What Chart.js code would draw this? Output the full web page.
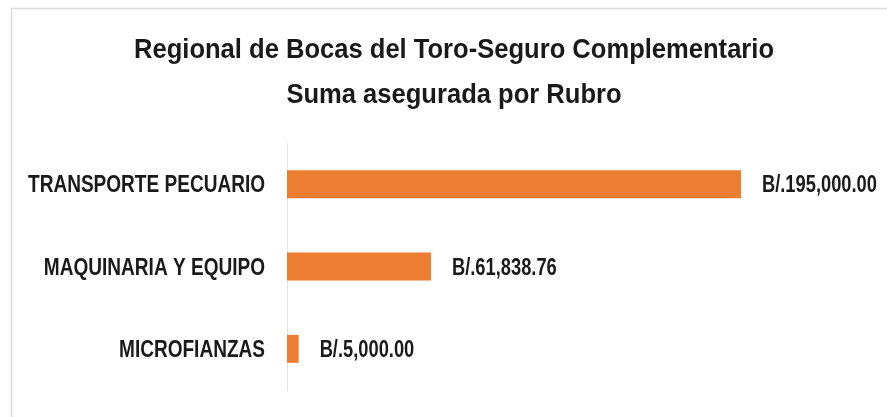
<!DOCTYPE html>
<html><head><meta charset="utf-8">
<script src="https://cdn.jsdelivr.net/npm/chart.js@4"></script>
<style>html,body{margin:0;padding:0;background:#fff}#wrap{position:relative;width:887px;height:417px}</style>
</head><body><div id="wrap"><canvas id="c" width="887" height="417"></canvas></div>
<script>
const titleLines = ['Regional de Bocas del Toro-Seguro Complementario', 'Suma asegurada por Rubro'];
const categories = ['TRANSPORTE PECUARIO', 'MAQUINARIA Y EQUIPO', 'MICROFIANZAS'];
const values = [195000.00, 61838.76, 5000.00];
const valueLabels = ['B/.195,000.00', 'B/.61,838.76', 'B/.5,000.00'];
const axisMax = 250000;

const FONT = '"Liberation Sans", Arial, sans-serif';
const TEXT = '#1a1a1a';

// condensed text: horizontal squeeze so the reference's narrow face is imitated
function squeezeFor(ctx, font, sample, targetW) {
  ctx.save(); ctx.font = font;
  const w = ctx.measureText(sample).width;
  ctx.restore();
  return targetW / w;
}
function drawSqueezed(ctx, text, x, y, sx, align) {
  const w = ctx.measureText(text).width * sx;
  let left = x;
  if (align === 'right') left = x - w;
  else if (align === 'center') left = x - w / 2;
  ctx.save();
  ctx.translate(left, y);
  ctx.scale(sx, 1);
  ctx.textAlign = 'left';
  ctx.fillText(text, 0, 0);
  ctx.restore();
}

const frame = {
  id: 'frame',
  beforeDraw(chart) {
    const ctx = chart.ctx;
    ctx.save();
    ctx.fillStyle = '#fff';
    ctx.fillRect(0, 0, chart.width, chart.height);
    ctx.strokeStyle = '#dcdcdc';
    ctx.lineWidth = 1.5;
    ctx.strokeRect(11.5, 8.5, chart.width + 20, chart.height + 20);
    ctx.restore();
  }
};

const texts = {
  id: 'texts',
  afterDatasetsDraw(chart) {
    const ctx = chart.ctx;
    ctx.save();
    ctx.fillStyle = TEXT;
    ctx.textBaseline = 'alphabetic';

    // title
    const tFont = 'bold 28px ' + FONT;
    const tsx = squeezeFor(ctx, tFont, titleLines[0], 640);
    ctx.font = tFont;
    const cx = 454;
    titleLines.forEach((line, i) => drawSqueezed(ctx, line, cx, 58 + i * 45, tsx, 'center'));

    // category labels
    const yScale = chart.scales.y;
    const lFont = 'bold 24px ' + FONT;
    const lsx = squeezeFor(ctx, lFont, categories[0], 237);
    ctx.font = lFont;
    categories.forEach((c, i) => {
      const y = yScale.getPixelForTick(i);
      drawSqueezed(ctx, c, yScale.right - 22, y + 8, lsx, 'right');
    });

    // value labels
    const meta = chart.getDatasetMeta(0);
    const vsx = squeezeFor(ctx, lFont, valueLabels[0], 115);
    meta.data.forEach((bar, i) => {
      drawSqueezed(ctx, valueLabels[i], bar.x + 21, bar.y + 8, vsx, 'left');
    });
    ctx.restore();
  }
};

new Chart(document.getElementById('c'), {
  type: 'bar',
  data: {
    labels: categories,
    datasets: [{
      data: values,
      backgroundColor: '#ED7D31',
      borderWidth: 0,
      categoryPercentage: 1,
      barPercentage: 0.34
    }]
  },
  options: {
    indexAxis: 'y',
    responsive: false,
    animation: false,
    devicePixelRatio: 1,
    layout: { padding: { left: 0, right: 18, top: 143, bottom: 27 } },
    plugins: {
      legend: { display: false },
      tooltip: { enabled: false },
      title: { display: false }
    },
    scales: {
      x: { display: false, min: 0, max: axisMax },
      y: {
        afterFit(scale) { scale.width = 287; },
        grid: { display: false, drawTicks: false },
        border: { display: true, color: '#e3e3e3', width: 1 },
        ticks: { display: false }
      }
    }
  },
  plugins: [frame, texts]
});
</script></body></html>
